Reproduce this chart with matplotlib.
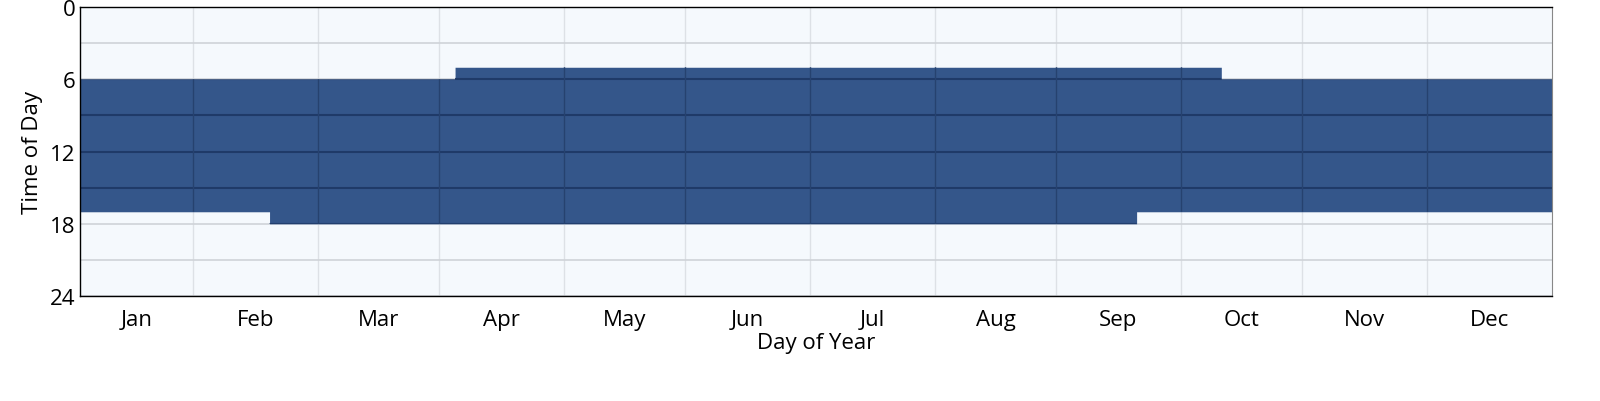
import numpy as np
import matplotlib.pyplot as plt

plt.rcParams['font.family'] = ['Open Sans', 'DejaVu Sans']

# month boundaries (days) as drawn in the reference grid
month_edges = [0, 28, 59, 89, 120, 150, 181, 212, 242, 273, 303, 334, 365]
months = ['Jan', 'Feb', 'Mar', 'Apr', 'May', 'Jun',
          'Jul', 'Aug', 'Sep', 'Oct', 'Nov', 'Dec']

# start of occupied period (hour) - changes at given days
start_days = [0, 93, 283]
start_hours = [6, 5, 6]
# end of occupied period (hour)
end_days = [0, 47, 262]
end_hours = [17, 18, 17]

days = np.arange(0, 366)
start = np.array(start_hours)[np.searchsorted(start_days, days, side='right') - 1]
end = np.array(end_hours)[np.searchsorted(end_days, days, side='right') - 1]

fig = plt.figure(figsize=(16, 4.02), dpi=100)
ax = fig.add_axes([0.05, 0.261, 0.92, 0.719])
ax.set_facecolor('#f5f9fd')

poly = ax.fill_between(days, start, end, step='post', color='#34568a',
                       linewidth=0, zorder=1)

ax.set_xlim(0, 365)
ax.set_ylim(24, 0)

centers = [(a + b) / 2 for a, b in zip(month_edges[:-1], month_edges[1:])]
ax.set_xticks(centers)
ax.set_xticklabels(months)
ax.set_xticks(month_edges[1:-1], minor=True)
ax.set_yticks([0, 6, 12, 18, 24])
ax.set_yticks(np.arange(3, 24, 6), minor=True)

ax.tick_params(axis='both', which='both', length=0, labelsize=16)
ax.tick_params(axis='x', pad=9)
ax.tick_params(axis='y', pad=3)

# light grid on background
ax.grid(True, which='minor', axis='x', color='#dde1e6', linewidth=1, zorder=0.5)
ax.grid(True, which='both', axis='y', color='#cfd3d8', linewidth=1.2, zorder=0.5)
ax.set_axisbelow(True)

# darker grid seen through the filled block
hgrid = np.arange(3, 24, 3)
h = ax.hlines(hgrid, 0, 365, colors='#1f3a68', linewidth=1.5, zorder=2)
v = ax.vlines(month_edges[1:-1], 0, 24, colors='#26426f', linewidth=1, zorder=2)
h.set_clip_path(poly.get_paths()[0], poly.get_transform())
v.set_clip_path(poly.get_paths()[0], poly.get_transform())

for s in ['top', 'bottom', 'left']:
    ax.spines[s].set_color('black')
    ax.spines[s].set_linewidth(1)
ax.spines['right'].set_color('#888888')

ax.set_xlabel('Day of Year', fontsize=16, labelpad=2)
ax.set_ylabel('Time of Day', fontsize=16, labelpad=5)

fig.savefig('out.png', dpi=100)
